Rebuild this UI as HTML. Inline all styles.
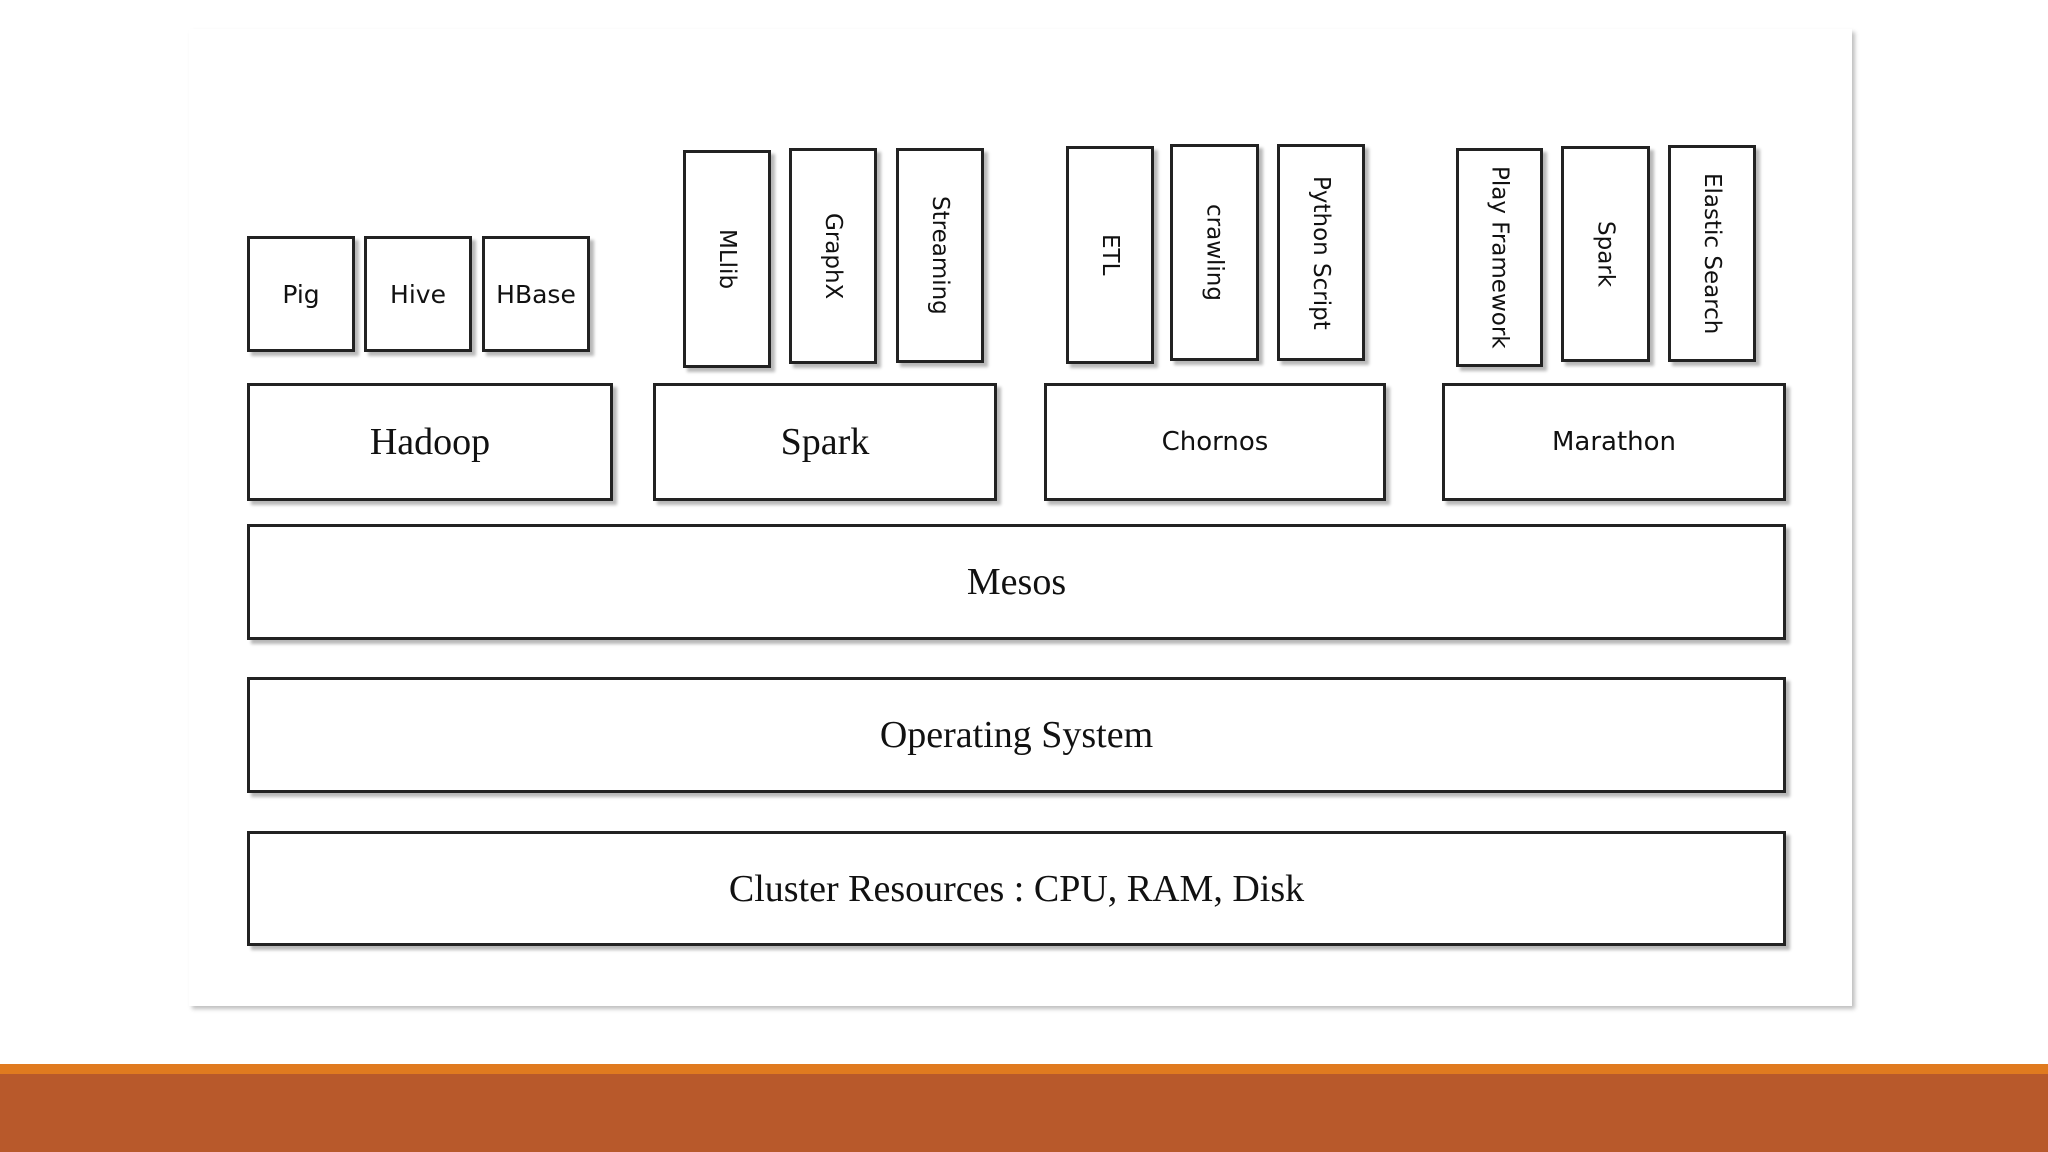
<!DOCTYPE html>
<html><head><meta charset="utf-8"><style>
html,body{margin:0;padding:0}
body{width:2048px;height:1152px;position:relative;background:#fff;overflow:hidden;font-family:"DejaVu Sans","Liberation Sans",sans-serif}
.panel{position:absolute;left:189px;top:29px;width:1663px;height:977px;background:#fff;box-shadow:3px 3px 4px rgba(0,0,0,0.25)}
.b{position:absolute;box-sizing:border-box;border:3px solid #222;background:#fff;box-shadow:4px 4px 3px rgba(0,0,0,0.28);display:flex;align-items:center;justify-content:center;color:#111}
.s{font-size:25px}
.m{font-size:26px}
.serif{font-family:"Liberation Serif",serif;font-size:38px}
.v{writing-mode:vertical-rl;font-size:23px;white-space:nowrap}
.bar1{position:absolute;left:0;top:1064px;width:2048px;height:10px;background:#e07a1f}
.bar2{position:absolute;left:0;top:1074px;width:2048px;height:78px;background:#b8592b}
</style></head><body>
<div class="panel"></div>
<div class="b s" style="left:247px;top:236px;width:108px;height:116px">Pig</div>
<div class="b s" style="left:364px;top:236px;width:108px;height:116px">Hive</div>
<div class="b s" style="left:482px;top:236px;width:108px;height:116px">HBase</div>

<div class="b" style="left:683px;top:150px;width:88px;height:218px"><span class="v">MLlib</span></div>
<div class="b" style="left:789px;top:148px;width:88px;height:216px"><span class="v">GraphX</span></div>
<div class="b" style="left:896px;top:148px;width:88px;height:215px"><span class="v">Streaming</span></div>
<div class="b" style="left:1066px;top:146px;width:88px;height:218px"><span class="v">ETL</span></div>
<div class="b" style="left:1170px;top:144px;width:89px;height:217px"><span class="v">crawling</span></div>
<div class="b" style="left:1277px;top:144px;width:88px;height:217px"><span class="v">Python Script</span></div>
<div class="b" style="left:1456px;top:148px;width:87px;height:219px"><span class="v">Play Framework</span></div>
<div class="b" style="left:1561px;top:146px;width:89px;height:216px"><span class="v">Spark</span></div>
<div class="b" style="left:1668px;top:145px;width:88px;height:217px"><span class="v">Elastic Search</span></div>

<div class="b serif" style="left:247px;top:383px;width:366px;height:118px">Hadoop</div>
<div class="b serif" style="left:653px;top:383px;width:344px;height:118px">Spark</div>
<div class="b m" style="left:1044px;top:383px;width:342px;height:118px">Chornos</div>
<div class="b m" style="left:1442px;top:383px;width:344px;height:118px">Marathon</div>

<div class="b serif" style="left:247px;top:524px;width:1539px;height:116px">Mesos</div>
<div class="b serif" style="left:247px;top:677px;width:1539px;height:116px">Operating System</div>
<div class="b serif" style="left:247px;top:831px;width:1539px;height:115px">Cluster Resources : CPU, RAM, Disk</div>

<div class="bar1"></div><div class="bar2"></div>
</body></html>
